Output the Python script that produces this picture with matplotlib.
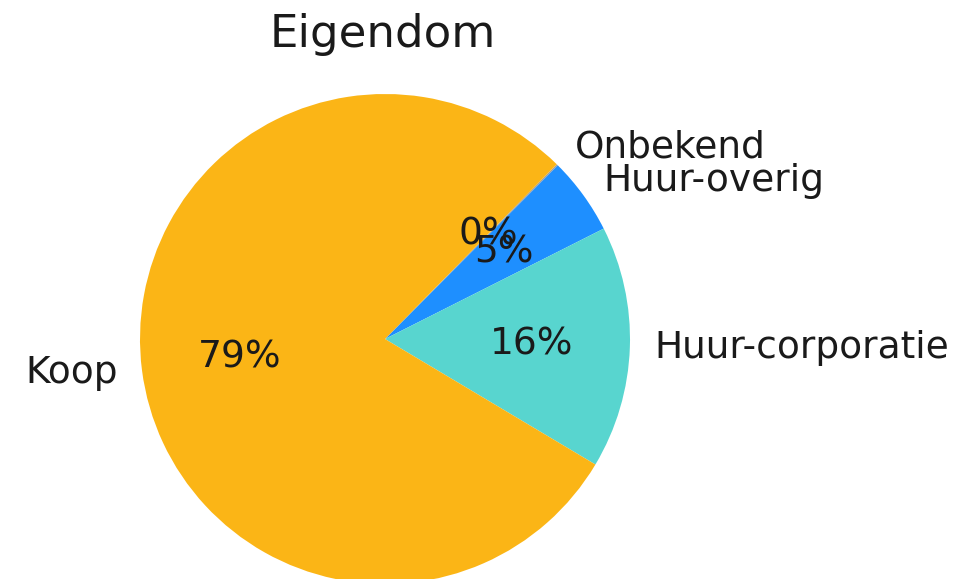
import matplotlib
matplotlib.use("Agg")
import matplotlib.pyplot as plt

# data
labels = ["Onbekend", "Huur-overig", "Huur-corporatie", "Koop"]
values = [0.1, 5.1, 16.0, 78.8]
colors = ["#A0A0A0", "#1E8FFF", "#58D5CF", "#FBB516"]

fig = plt.figure(figsize=(9.73, 5.79), dpi=100)
W, H = 973, 579
# pie centre (385, 338) px from top-left, radius 245 px
r = 245
side = 2.5 * r
cx, cy = 385, H - 339
ax = fig.add_axes([(cx - side / 2) / W, (cy - side / 2) / H, side / W, side / H])

ax.pie(values, labels=labels, colors=colors, autopct='%1.0f%%',
       startangle=45.5, counterclock=False,
       textprops={'fontsize': 27, 'color': '#1a1a1a'})
ax.set_xlim(-1.25, 1.25)
ax.set_ylim(-1.25, 1.25)
ax.set_aspect('equal')
ax.axis('off')

fig.text(383 / W, 1 - 35 / H, "Eigendom", fontsize=32.5, ha='center', va='center',
         color='#1a1a1a')

fig.savefig("out.png", dpi=100)
